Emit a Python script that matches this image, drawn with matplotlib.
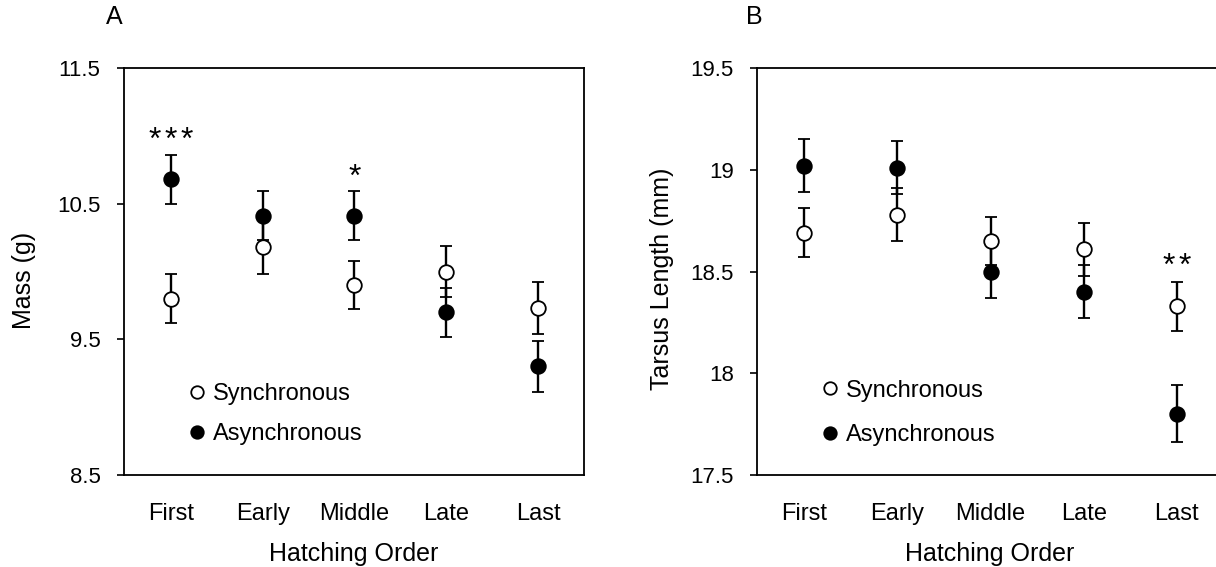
import matplotlib
matplotlib.use("Agg")
import matplotlib.pyplot as plt
from matplotlib.lines import Line2D
import numpy as np

plt.rcParams['font.family'] = ['Liberation Sans', 'DejaVu Sans']

categories = ["First", "Early", "Middle", "Late", "Last"]

# Panel A: Mass (g)
mass_sync = [9.80, 10.18, 9.90, 10.00, 9.73]
mass_sync_err = [0.18, 0.20, 0.18, 0.19, 0.19]
mass_async = [10.68, 10.41, 10.41, 9.70, 9.30]
mass_async_err = [0.18, 0.18, 0.18, 0.18, 0.19]
mass_sig_labels = ["***", "", "*", "", ""]
mass_sig_y = [10.903, None, 10.634, None, None]

# Panel B: Tarsus length (mm)
tars_sync = [18.69, 18.78, 18.65, 18.61, 18.33]
tars_sync_err = [0.12, 0.13, 0.12, 0.13, 0.12]
tars_async = [19.02, 19.01, 18.50, 18.40, 17.80]
tars_async_err = [0.13, 0.13, 0.13, 0.13, 0.14]
tars_sig_labels = ["", "", "", "", "**"]
tars_sig_y = [None, None, None, None, 18.485]

W, H = 1216, 567
fig = plt.figure(figsize=(W / 100, H / 100), dpi=100)

def px_axes(l, r, t, b):
    return fig.add_axes([l / W, 1 - b / H, (r - l) / W, (b - t) / H])

axA = px_axes(124, 584, 68, 475)
axB = px_axes(757.3, 1223, 68, 475)

x = np.arange(1, len(categories) + 1)

def draw(ax, sync, sync_err, asyn, asyn_err, ylim, yticks, ylabel, sig_labels, sig_y,
         leg_anchor, leg_spacing):
    ekw = dict(fmt='o', ecolor='black', elinewidth=1.7, capsize=4.5, capthick=1.7,
               markersize=10.5, markeredgewidth=1.3, markeredgecolor='black', zorder=3)
    ax.errorbar(x, sync, yerr=sync_err, markerfacecolor='white', **ekw)
    ax.errorbar(x, asyn, yerr=asyn_err, markerfacecolor='black', **ekw)
    for xi, lab, yy in zip(x, sig_labels, sig_y):
        n = len(lab)
        for i, ch in enumerate(lab):
            ax.annotate(ch, (xi, yy), xytext=((i - (n - 1) / 2) * 11.5, 0),
                        textcoords='offset points', ha='center', va='baseline',
                        fontsize=23)
    ax.set_xlim(0.49, 5.5)
    ax.set_ylim(*ylim)
    ax.set_yticks(yticks)
    ax.set_yticklabels([f"{v:g}" for v in yticks])
    ax.set_xticks(x)
    ax.set_xticklabels(categories)
    ax.tick_params(axis='x', length=0, pad=20.5, labelsize=17)
    ax.tick_params(axis='y', direction='out', length=5, width=1.2, pad=12, labelsize=16)
    for s in ax.spines.values():
        s.set_linewidth(1.3)
    ax.set_xlabel("Hatching Order", fontsize=18)
    ax.xaxis.set_label_coords(0.5, -0.165)
    ax.set_ylabel(ylabel, fontsize=18)
    handles = [Line2D([], [], ls='none', marker='o', markersize=9, markeredgewidth=1.3,
                      markeredgecolor='black', markerfacecolor='white'),
               Line2D([], [], ls='none', marker='o', markersize=9, markeredgewidth=1.3,
                      markeredgecolor='black', markerfacecolor='black')]
    ax.legend(handles, ["Synchronous", "Asynchronous"], loc='upper left',
              bbox_to_anchor=leg_anchor, frameon=False, fontsize=17, borderpad=0,
              borderaxespad=0, handlelength=1.0, handletextpad=0.18,
              labelspacing=leg_spacing)

draw(axA, mass_sync, mass_sync_err, mass_async, mass_async_err, (8.5, 11.5),
     [8.5, 9.5, 10.5, 11.5], "Mass (g)", mass_sig_labels, mass_sig_y,
     (0.133, 0.226), 0.77)
axA.yaxis.set_label_coords(-0.191, 0.477)

draw(axB, tars_sync, tars_sync_err, tars_async, tars_async_err, (17.5, 19.5),
     [17.5, 18, 18.5, 19, 19.5], "Tarsus Length (mm)", tars_sig_labels, tars_sig_y,
     (0.131, 0.234), 0.95)
axB.set_xlim(0.495, 5.495)
axB.yaxis.set_label_coords(-0.179, 0.482)

fig.text(114.5 / W, 1 - 17 / H, "A", ha='center', va='center', fontsize=18)
fig.text(754 / W, 1 - 17 / H, "B", ha='center', va='center', fontsize=18)

fig.savefig("out.png", dpi=100)
